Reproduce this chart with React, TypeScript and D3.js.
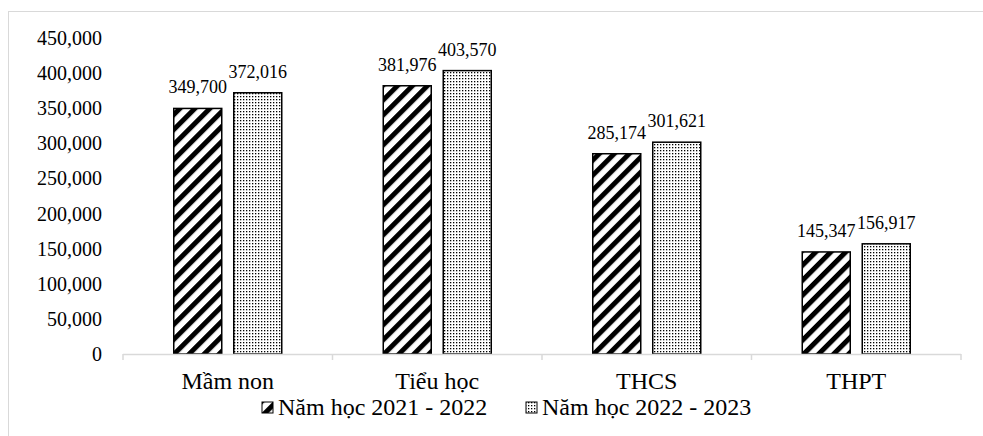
import React from "react";
import * as d3 from "d3";

const categories = ["Mầm non", "Tiểu học", "THCS", "THPT"];
const series2122 = [349700, 381976, 285174, 145347];
const series2223 = [372016, 403570, 301621, 156917];
const seriesNames = ["Năm học 2021 - 2022", "Năm học 2022 - 2023"];
const yTicks = [0, 50000, 100000, 150000, 200000, 250000, 300000, 350000, 400000, 450000];

const W = 983;
const H = 436;
const FONT = "Liberation Serif, Tinos, Times New Roman, DejaVu Serif, serif";

export default function App() {
  const x = d3.scaleBand<string>().domain(categories).range([123, 961]);
  const y = d3.scaleLinear().domain([0, 450000]).range([354, 38]);
  const fmt = d3.format(",");
  const barW = 48;
  const gap = 12;
  const series = [series2122, series2223];
  const fills = ["url(#stripes)", "url(#dots)"];

  return (
    <svg width={W} height={H} style={{ position: "absolute", left: 0, top: 0, fontFamily: FONT }}>
      <defs>
        <pattern id="stripes" patternUnits="userSpaceOnUse" width={10.6} height={10.6} patternTransform="rotate(45)">
          <rect width={10.6} height={10.6} fill="#fff" />
          <rect width={5} height={10.6} fill="#000" />
        </pattern>
        <pattern id="dots" patternUnits="userSpaceOnUse" width={3} height={3}>
          <rect width={3} height={3} fill="#fff" />
          <rect width={1.3} height={1.3} fill="#000" />
        </pattern>
      </defs>
      <rect x={0} y={0} width={W} height={H} fill="#fff" />
      <line x1={8.5} y1={11} x2={8.5} y2={H} stroke="#d9d9d9" />
      <line x1={8} y1={11.5} x2={W} y2={11.5} stroke="#d9d9d9" />

      {yTicks.map((t) => (
        <text key={t} x={102} y={y(t)} dy="0.35em" textAnchor="end" fontSize={20} fill="#000">
          {fmt(t)}
        </text>
      ))}

      {categories.map((c, ci) =>
        series.map((s, si) => {
          const cx = (x(c) as number) + x.bandwidth() / 2;
          const bx = si === 0 ? cx - gap / 2 - barW : cx + gap / 2;
          const v = s[ci];
          return (
            <g key={c + si}>
              <rect x={bx} y={y(v)} width={barW} height={y(0) - y(v)} fill={fills[si]} stroke="#000" strokeWidth={1.5} />
              <text x={bx + barW / 2} y={y(v) - 15} textAnchor="middle" fontSize={18} fill="#000">
                {fmt(v)}
              </text>
            </g>
          );
        })
      )}

      <line x1={123} y1={354.5} x2={961} y2={354.5} stroke="#d9d9d9" strokeWidth={1.5} />
      {[...categories.map((c) => x(c) as number), 961].map((tx, i) => (
        <line key={i} x1={tx} y1={354} x2={tx} y2={360} stroke="#d9d9d9" strokeWidth={1.5} />
      ))}

      {categories.map((c) => (
        <text key={c} x={(x(c) as number) + x.bandwidth() / 2} y={389} textAnchor="middle" fontSize={24} fill="#000">
          {c}
        </text>
      ))}

      {seriesNames.map((n, i) => {
        const lx = i === 0 ? 262 : 526;
        return (
          <g key={n}>
            <rect x={lx} y={402} width={11} height={11} fill={fills[i]} stroke="#000" strokeWidth={1} />
            <text x={lx + 16} y={415} fontSize={24} fill="#000">
              {n}
            </text>
          </g>
        );
      })}
    </svg>
  );
}
